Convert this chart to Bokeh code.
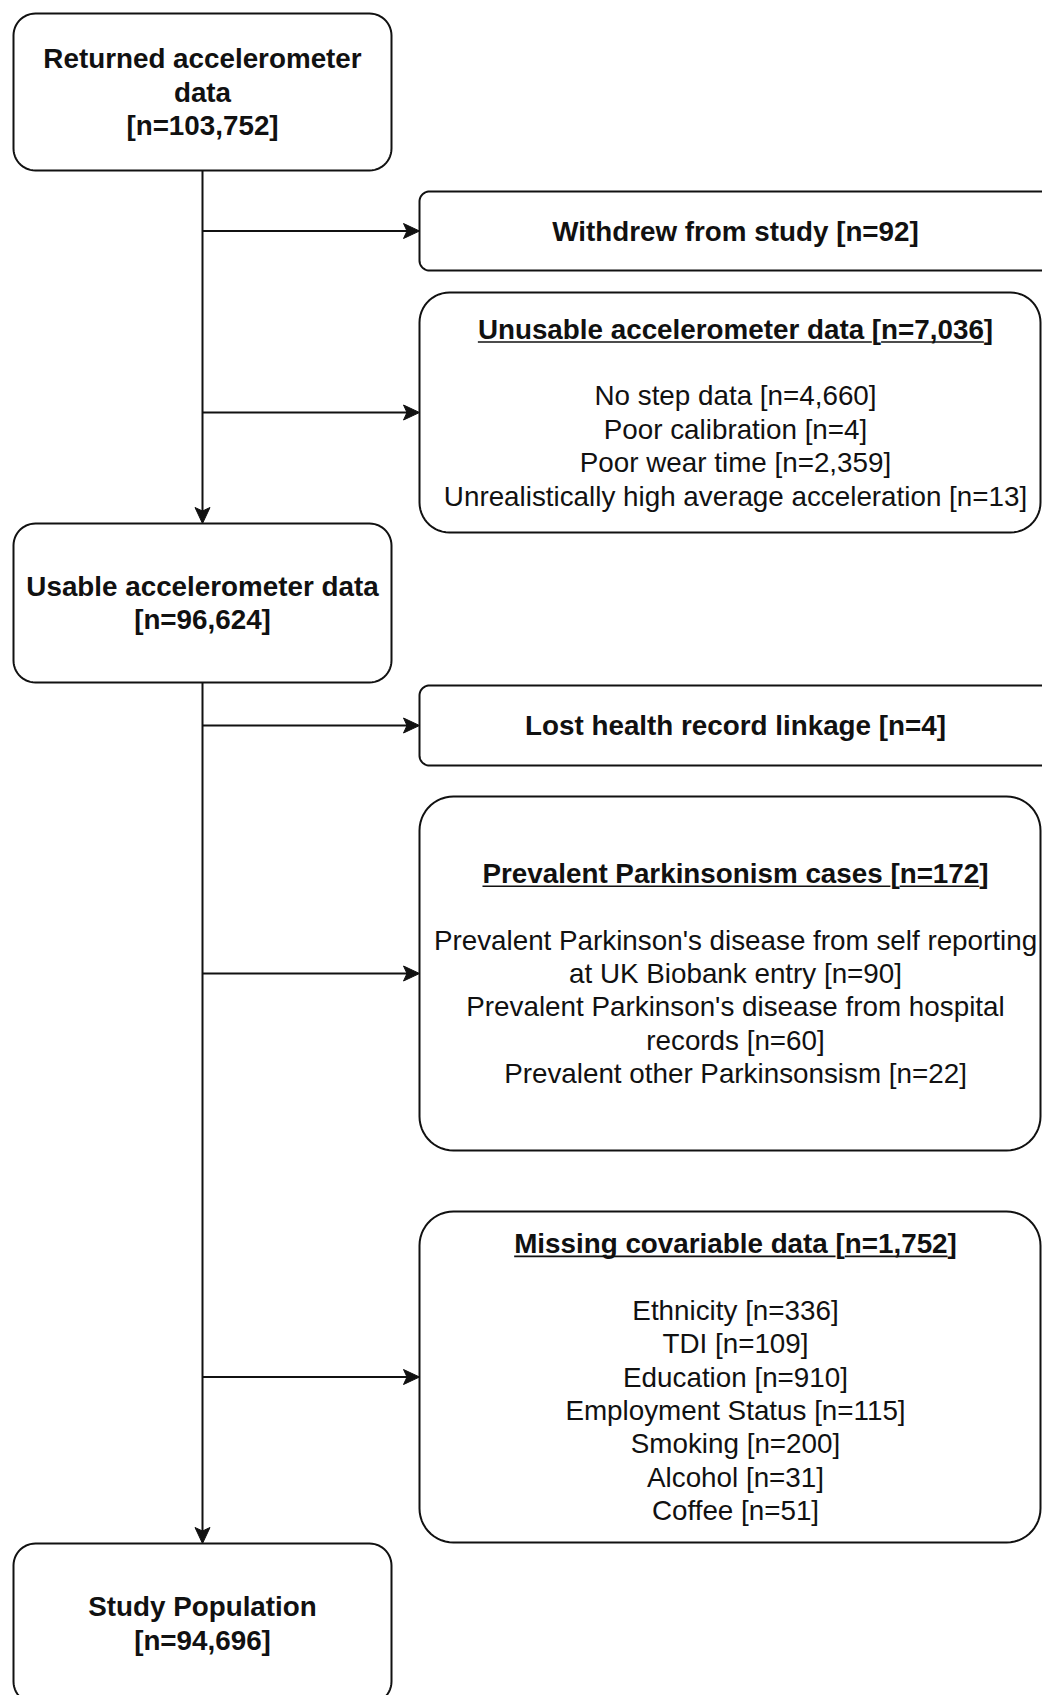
import numpy as np
from bokeh.plotting import figure
from bokeh.models import Range1d
from bokeh.core.properties import value
from bokeh.embed import file_html
from bokeh.resources import INLINE

# ---------------- data ----------------
main_titles = [["Returned accelerometer", "data"],
               ["Usable accelerometer data"],
               ["Study Population"]]
main_n = [103752, 96624, 94696]

excl_titles = ["Withdrew from study",
               "Unusable accelerometer data",
               "Lost health record linkage",
               "Prevalent Parkinsonism cases",
               "Missing covariable data"]
excl_n = [92, 7036, 4, 172, 1752]
excl_detail_labels = [
    [],
    ["No step data", "Poor calibration", "Poor wear time",
     "Unrealistically high average acceleration"],
    [],
    ["Prevalent Parkinson's disease from self reporting\nat UK Biobank entry",
     "Prevalent Parkinson's disease from hospital\nrecords",
     "Prevalent other Parkinsonsism"],
    ["Ethnicity", "TDI", "Education", "Employment Status", "Smoking",
     "Alcohol", "Coffee"],
]
excl_detail_n = [[], [4660, 4, 2359, 13], [], [90, 60, 22],
                 [336, 109, 910, 115, 200, 31, 51]]

# ---------------- layout (pixels of the page) ----------------
FONT = "Liberation Sans"
FS = 27.8
LS = 33.4
LINE = "#111111"
LEFT_X = (13, 391)
SPINE_X = 202
main_y = [(13, 170), (523, 682), (1543, 1703)]
RIGHT_X0 = 419
right_y = [(191, 270), (292, 532), (685, 765), (796, 1150), (1211, 1542)]
right_x1 = [1070, 1040, 1070, 1040, 1040]
right_r = [10, 30, 10, 34, 34]
RIGHT_TX = 735
HEAD_L, HEAD_W, HEAD_N = 16, 7.5, 3.5   # arrowhead length, half-width, notch depth

BOLD_W = {' ': 278, '[': 333, ']': 333, '=': 584, ',': 278, "'": 238,
          'a': 556, 'b': 611, 'c': 556, 'd': 611, 'e': 556, 'f': 333,
          'g': 611, 'h': 611, 'i': 278, 'k': 556, 'l': 278, 'm': 889,
          'n': 611, 'o': 611, 'p': 611, 'r': 389, 's': 556, 't': 333,
          'u': 611, 'v': 556, 'w': 778, 'y': 556, 'M': 833, 'P': 667,
          'U': 722, 'W': 944, 'L': 611}


def bold_width(s):
    return sum(BOLD_W.get(c, 556 if c.isdigit() else 600) for c in s) * FS / 1000.0


def rrect(x0, x1, y0, y1, r, n=14):
    xs, ys = [], []
    corners = [(x1 - r, y0 + r, -np.pi / 2, 0.0),
               (x1 - r, y1 - r, 0.0, np.pi / 2),
               (x0 + r, y1 - r, np.pi / 2, np.pi),
               (x0 + r, y0 + r, np.pi, 1.5 * np.pi)]
    for cx, cy, a0, a1 in corners:
        t = np.linspace(a0, a1, n)
        xs.extend(cx + r * np.cos(t))
        ys.extend(cy + r * np.sin(t))
    return list(xs), list(ys)


p = figure(width=1042, height=1695, x_range=Range1d(0, 1042),
           y_range=Range1d(1695, 0), x_axis_type=None, y_axis_type=None,
           output_backend="svg", toolbar_location=None, min_border=0)
p.grid.visible = False
p.outline_line_color = None
p.background_fill_color = "white"
p.border_fill_color = "white"

# connector lines and arrowheads
sx0, sy0, sx1, sy1 = [], [], [], []
hx, hy = [], []
for (a, b) in [(main_y[0][1], main_y[1][0]), (main_y[1][1], main_y[2][0])]:
    sx0.append(SPINE_X); sy0.append(a); sx1.append(SPINE_X); sy1.append(b - HEAD_N)
    hx.append([SPINE_X, SPINE_X + HEAD_W, SPINE_X, SPINE_X - HEAD_W])
    hy.append([b, b - HEAD_L, b - HEAD_L + HEAD_N, b - HEAD_L])
for (y0, y1) in right_y:
    cy = (y0 + y1) / 2
    sx0.append(SPINE_X); sy0.append(cy); sx1.append(RIGHT_X0 - HEAD_N); sy1.append(cy)
    x = RIGHT_X0
    hx.append([x, x - HEAD_L, x - HEAD_L + HEAD_N, x - HEAD_L])
    hy.append([cy, cy - HEAD_W, cy, cy + HEAD_W])
p.segment(x0=sx0, y0=sy0, x1=sx1, y1=sy1, line_color=LINE, line_width=2)

# boxes
bxs, bys = [], []
for (y0, y1) in main_y:
    xs, ys = rrect(LEFT_X[0], LEFT_X[1], y0, y1, 22)
    bxs.append(xs); bys.append(ys)
for (y0, y1), x1, r in zip(right_y, right_x1, right_r):
    xs, ys = rrect(RIGHT_X0, x1, y0, y1, r)
    bxs.append(xs); bys.append(ys)
p.patches(bxs, bys, fill_color="white", line_color=LINE, line_width=2)
p.patches(hx, hy, fill_color=LINE, line_color=LINE, line_width=1)

# texts
tx, ty, tt, tstyle = [], [], [], []
for lines, n, (y0, y1) in zip(main_titles, main_n, main_y):
    rows = lines + [f"[n={n:,}]"]
    cy = (y0 + y1) / 2
    for k, s in enumerate(rows):
        tx.append((LEFT_X[0] + LEFT_X[1]) / 2)
        ty.append(cy + (k - (len(rows) - 1) / 2) * LS)
        tt.append(s); tstyle.append("bold")

ux0, ux1, uy = [], [], []
for title, n, labels, ns, (y0, y1) in zip(excl_titles, excl_n, excl_detail_labels,
                                        excl_detail_n, right_y):
    head = f"{title} [n={n:,}]"
    rows = [(head, "bold")]
    if labels:
        rows.append(("", "normal"))
        for lab, v in zip(labels, ns):
            for s in f"{lab} [n={v:,}]".split("\n"):
                rows.append((s, "normal"))
    cy = (y0 + y1) / 2
    for k, (s, st) in enumerate(rows):
        yk = cy + (k - (len(rows) - 1) / 2) * LS
        if s:
            tx.append(RIGHT_TX); ty.append(yk); tt.append(s); tstyle.append(st)
        if k == 0 and labels:
            W = bold_width(head)
            left = RIGHT_TX - W / 2
            w1 = bold_width(title + " ")
            w2 = bold_width(title + " [")
            ux0 += [left, left + w2]
            ux1 += [left + w1, left + W - bold_width("]")]
            uy += [yk + 13, yk + 13]

for st in ("bold", "normal"):
    idx = [i for i, s in enumerate(tstyle) if s == st]
    p.text(x=[tx[i] for i in idx], y=[ty[i] for i in idx],
           text=[tt[i] for i in idx], text_align="center",
           text_baseline="middle", text_font=value(FONT),
           text_font_size=f"{FS}px", text_font_style=st, text_color="#111111")

p.segment(x0=ux0, y0=uy, x1=ux1, y1=uy, line_color="#111111", line_width=1.6)

open("out.html", "w").write(file_html(p, INLINE))
